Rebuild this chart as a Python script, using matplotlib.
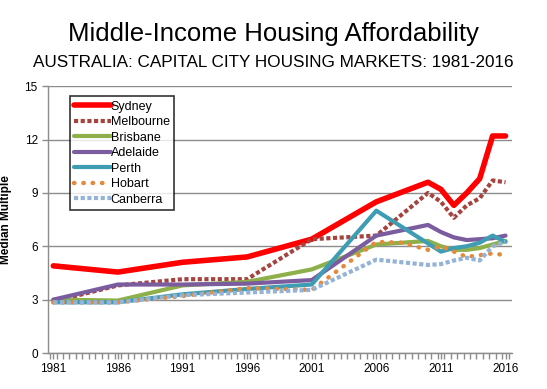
import numpy as np
import matplotlib
matplotlib.use("Agg")
import matplotlib.pyplot as plt

plt.rcParams['font.family'] = ['Liberation Sans', 'DejaVu Sans']

# -----------------------------
# Data (median multiple)
# -----------------------------
syd_years = [1981, 1986, 1991, 1996, 2001, 2006, 2010, 2011, 2012, 2013, 2014, 2015, 2016]
syd_vals = [4.9, 4.55, 5.1, 5.4, 6.4, 8.5, 9.6, 9.2, 8.3, 9.0, 9.8, 12.2, 12.2]

mel_years = [1981, 1986, 1991, 1996, 2001, 2006, 2010, 2011, 2012, 2013, 2014, 2015, 2016]
mel_vals = [2.9, 3.8, 4.15, 4.15, 6.4, 6.6, 9.0, 8.5, 7.6, 8.3, 8.7, 9.7, 9.6]

bri_years = [1981, 1986, 1991, 1996, 2001, 2006, 2010, 2011, 2012, 2013, 2014, 2015, 2016]
bri_vals = [3.0, 2.95, 3.8, 4.0, 4.7, 6.1, 6.3, 6.0, 5.8, 5.8, 5.9, 6.1, 6.3]

ade_years = [1981, 1986, 1991, 1996, 2001, 2006, 2010, 2011, 2012, 2013, 2014, 2015, 2016]
ade_vals = [3.0, 3.85, 3.85, 3.9, 4.1, 6.6, 7.2, 6.8, 6.5, 6.35, 6.4, 6.45, 6.6]

per_years = [1981, 1986, 1991, 1996, 2001, 2006, 2011, 2012, 2013, 2014, 2015, 2016]
per_vals = [2.85, 2.85, 3.3, 3.6, 3.85, 8.0, 5.7, 5.9, 6.0, 6.2, 6.6, 6.25]

hob_years = [1981, 1986, 1991, 1996, 2001, 2006, 2008, 2010, 2011, 2012, 2013, 2014, 2015, 2016]
hob_vals = [2.85, 2.85, 3.2, 3.65, 3.55, 6.25, 6.2, 5.8, 6.0, 5.7, 5.4, 5.5, 5.6, 5.5]

can_years = [1981, 1986, 1991, 1996, 2001, 2006, 2010, 2011, 2012, 2013, 2014, 2015, 2016]
can_vals = [2.85, 2.85, 3.25, 3.4, 3.55, 5.25, 4.95, 5.0, 5.2, 5.35, 5.2, 6.0, 6.25]

series = [
    ("Sydney", syd_years, syd_vals, "#ff0000", "-", 4.0),
    ("Melbourne", mel_years, mel_vals, "#a5443f", (0, (1, 0.6)), 3.0),
    ("Brisbane", bri_years, bri_vals, "#8db04a", "-", 3.0),
    ("Adelaide", ade_years, ade_vals, "#7b5c9e", "-", 3.0),
    ("Perth", per_years, per_vals, "#3f9db3", "-", 3.0),
    ("Hobart", hob_years, hob_vals, "#e58a3a", (0, (0.1, 2.0)), 3.2),
    ("Canberra", can_years, can_vals, "#95b3d7", (0, (1, 0.6)), 3.0),
]

# -----------------------------
# Plot
# -----------------------------
fig = plt.figure(figsize=(5.47, 3.89), dpi=100)
ax = fig.add_axes([0.088, 0.0925, 0.848, 0.686])

for name, yrs, vals, col, ls, lw in series:
    cap = "round" if name == "Hobart" else "butt"
    ax.plot(yrs, vals, color=col, linestyle=ls, linewidth=lw,
            dash_capstyle=cap, solid_capstyle="round", label=name)

ax.set_xlim(1980.6, 2016.5)
ax.set_ylim(0, 15)
ax.set_yticks([0, 3, 6, 9, 12, 15])
ax.set_xticks(np.arange(1981, 2017, 5))
ax.set_xticks(np.arange(1980.75, 2016.6, 0.5), minor=True)
ax.grid(axis="y", color="#8c8c8c", linewidth=1.0)
ax.set_axisbelow(True)

for s in ["top", "right"]:
    ax.spines[s].set_visible(False)
for s in ["left", "bottom"]:
    ax.spines[s].set_color("#8c8c8c")
    ax.spines[s].set_linewidth(1.0)

ax.tick_params(axis="both", labelsize=8.5, colors="#8c8c8c", labelcolor="black",
               length=4, width=1)
ax.tick_params(axis="x", which="minor", length=4, width=1, colors="#8c8c8c")
ax.tick_params(axis="x", which="major", length=4, pad=3)

ax.set_ylabel("Median Multiple", fontsize=8.5, fontweight="bold", labelpad=9)

leg = ax.legend(loc="upper left", bbox_to_anchor=(0.047, 0.962), fontsize=9,
                frameon=True, fancybox=False, handlelength=2.9, handletextpad=0.0,
                labelspacing=0.28, borderpad=0.35, borderaxespad=0)
leg.get_frame().set_edgecolor("black")
leg.get_frame().set_linewidth(1.2)

fig.text(0.5, 0.912, "Middle-Income Housing Affordability", ha="center",
         va="center", fontsize=18.5)
fig.text(0.5, 0.84, "AUSTRALIA: CAPITAL CITY HOUSING MARKETS: 1981-2016",
         ha="center", va="center", fontsize=12.3)

fig.savefig("out.png", dpi=100)
